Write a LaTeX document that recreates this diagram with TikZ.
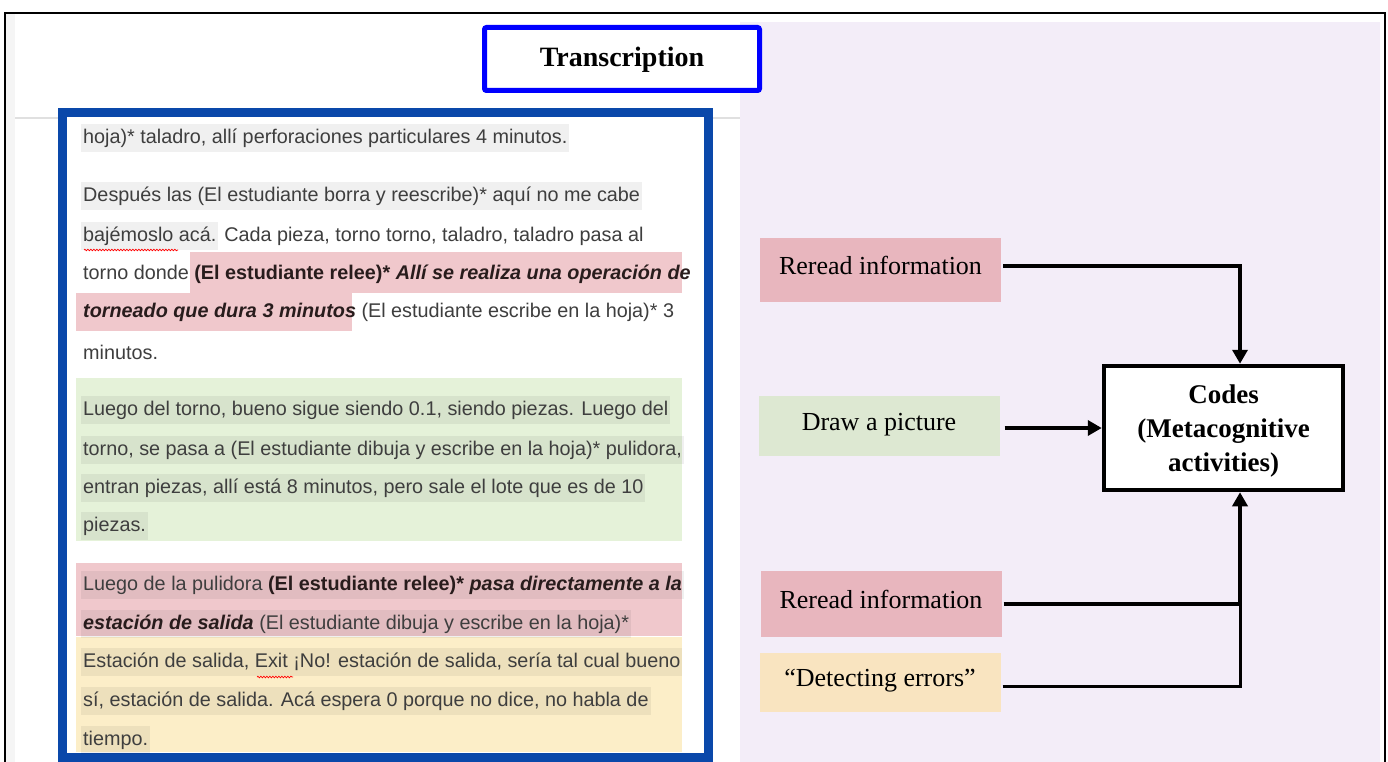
\documentclass[tikz,border=0pt]{standalone}
\usepackage{fontspec}
\setmainfont{Liberation Serif}
\newfontfamily\docsans{Liberation Sans}
\usetikzlibrary{arrows.meta,decorations.pathmorphing}
\definecolor{frameblue}{RGB}{10,72,170}
\definecolor{titleblue}{RGB}{0,0,255}
\definecolor{lilac}{RGB}{243,237,248}
\definecolor{hlpink}{RGB}{240,200,204}
\definecolor{hlgreen}{RGB}{229,242,217}
\definecolor{hlyellow}{RGB}{252,238,200}
\definecolor{boxpink}{RGB}{232,182,190}
\definecolor{boxgreen}{RGB}{221,232,210}
\definecolor{boxyellow}{RGB}{249,228,192}
\definecolor{doctext}{RGB}{62,62,62}
\definecolor{docbold}{RGB}{40,28,28}
\begin{document}
\begin{tikzpicture}[x=1pt,y=-1pt,
  docline/.style={anchor=west, inner xsep=2pt, inner ysep=0pt, minimum height=28pt,
    font=\docsans\fontsize{19.8}{22}\selectfont, text=doctext},
  hl/.style={fill=black, fill opacity=0.06, text opacity=1},
  codebox/.style={minimum width=241pt, minimum height=64pt, inner sep=0pt,
    text height=18pt, text depth=10pt, font=\fontsize{26}{30}\selectfont},
  link/.style={line width=4pt},
  tip/.style={-{Triangle[length=14pt,width=15pt]}},
  squiggle/.style={red, line width=0.7pt, decorate,
    decoration={snake, amplitude=0.8pt, segment length=3pt}}
]
\useasboundingbox (0,0) rectangle (1388,762);
% backgrounds
\fill[white] (0,0) rectangle (1388,762);
\fill[black!4] (6,14) rectangle (15,762);
\fill[lilac] (740,22) rectangle (1380,762);
\draw[black!12, line width=1.5pt] (15,118) -- (740,118);
\draw[line width=1.5pt] (5,762) -- (5,13) -- (1385,13) -- (1385,762);

% title
\node[draw=titleblue, line width=5pt, rounded corners=2pt, fill=white,
  minimum width=275pt, minimum height=63pt, text height=20pt, text depth=4pt,
  font=\bfseries\fontsize{28}{32}\selectfont] (title) at (622,59) {Transcription};

% transcription frame
\draw[frameblue, line width=9pt, fill=white] (62.5,112.5) rectangle (708.5,757.5);

% coloured blocks
\fill[hlpink] (190,252) rectangle (682,293);
\fill[hlpink] (76,293) rectangle (352,331);
\fill[hlgreen] (76,378) rectangle (682,541);
\fill[hlpink] (76,563) rectangle (682,636);
\fill[hlyellow] (76,637) rectangle (682,752);

% text lines
\node[docline, hl] (l1) at (81,138) {hoja)* taladro, allí perforaciones particulares 4 minutos.};
\node[docline, hl] (l2) at (81,196) {Después las (El estudiante borra y reescribe)* aquí no me cabe};
\node[docline, hl] (l3a) at (81,236) {bajémoslo acá.};
\node[docline, anchor=west, inner xsep=0pt] (l3b) at (l3a.east) {\ Cada pieza, torno torno, taladro, taladro pasa al};
\node[docline] (l4) at (81,274) {torno donde {\color{docbold}\bfseries (El estudiante relee)* \itshape Allí se realiza una operación de}};
\node[docline] (l5) at (81,312) {{\color{docbold}\bfseries\itshape torneado que dura 3 minutos} (El estudiante escribe en la hoja)* 3};
\node[docline] (l6) at (81,352) {minutos.};
\node[docline, hl] (l7) at (81,410) {Luego del torno, bueno sigue siendo 0.1, siendo piezas. Luego del};
\node[docline, hl] (l8) at (81,450) {torno, se pasa a (El estudiante dibuja y escribe en la hoja)* pulidora,};
\node[docline, hl] (l9) at (81,488) {entran piezas, allí está 8 minutos, pero sale el lote que es de 10};
\node[docline, hl] (l10) at (81,526) {piezas.};
\node[docline, hl] (l11) at (81,585) {Luego de la pulidora {\color{docbold}\bfseries (El estudiante relee)* \itshape pasa directamente a la}};
\node[docline, hl] (l12) at (81,624) {{\color{docbold}\bfseries\itshape estación de salida} (El estudiante dibuja y escribe en la hoja)*};
\node[docline, hl] (l13) at (81,662) {Estación de salida, Exit ¡No! estación de salida, sería tal cual bueno};
\node[docline, hl] (l14) at (81,701) {sí, estación de salida. Acá espera 0 porque no dice, no habla de};
\node[docline, hl] (l15) at (81,740) {tiempo.};
\draw[squiggle] (84,250) -- (178,250);
\draw[squiggle] (257,677) -- (293,677);

% right side
\node[codebox, fill=boxpink] (r1) at (880.5,270) {Reread information};
\node[codebox, fill=boxgreen, minimum height=60pt] (dp) at (879,426) {Draw a picture};
\node[draw, line width=4.5pt, fill=white, minimum width=239pt, minimum height=124pt,
  align=center, inner sep=0pt, font=\bfseries\fontsize{27}{34}\selectfont] (codes) at (1223.5,428)
  {\rule{0pt}{24pt}Codes\\(Metacognitive\\activities)};
\node[codebox, fill=boxpink, minimum height=66pt] (r2) at (881,604) {Reread information};
\node[codebox, fill=boxyellow, minimum height=59pt] (det) at (880,682.5) {“Detecting errors”};

% connectors
\draw[link, tip] ([xshift=2pt,yshift=4pt]r1.east) -| ([xshift=16.5pt]codes.north);
\draw[link, tip] ([xshift=5pt]dp.east |- codes.west) -- (codes.west);
\draw[link, tip] ([xshift=2pt]r2.east) -| ([xshift=16.5pt]codes.south);
\draw[line width=3pt] ([xshift=2pt,yshift=-3.5pt]det.east) -| ([xshift=16.5pt]codes.south |- r2.east);
\end{tikzpicture}
\end{document}
